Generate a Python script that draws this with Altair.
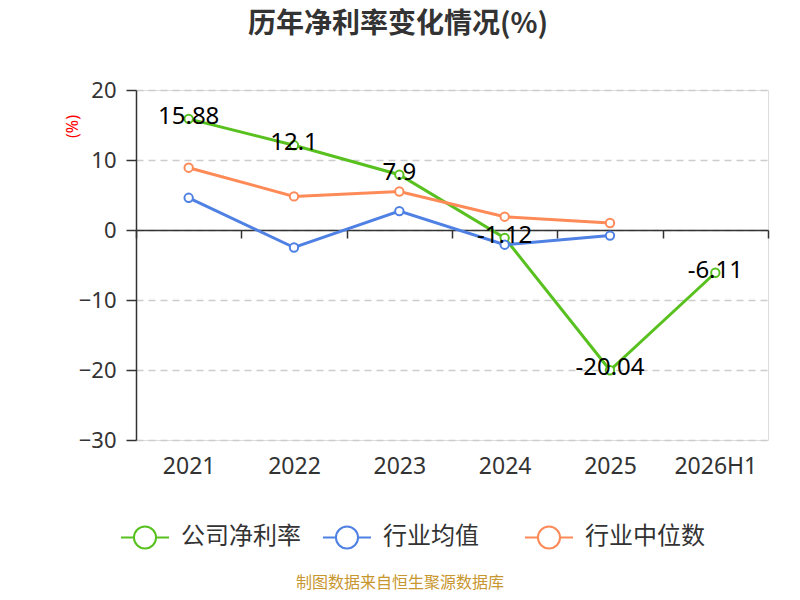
import altair as alt
import pandas as pd

years = ["2021", "2022", "2023", "2024", "2025", "2026H1"]
series_names = ["公司净利率", "行业均值", "行业中位数"]
company = [15.88, 12.1, 7.9, -1.12, -20.04, -6.11]
ind_avg = [4.6, -2.5, 2.7, -2.1, -0.8, None]
ind_median = [8.9, 4.8, 5.5, 1.9, 1.0, None]
colors = ["#58c11f", "#4f80e3", "#fe8a57"]
title_text = "历年净利率变化情况(%)"
source_text = "制图数据来自恒生聚源数据库"
y_ticks = [20, 10, 0, -10, -20, -30]

rows = []
for name, vals in zip(series_names, [company, ind_avg, ind_median]):
    for i, (yr, v) in enumerate(zip(years, vals)):
        if v is not None:
            rows.append({"year": yr, "series": name, "value": v,
                         "order": series_names.index(name),
                         "label": f"{v:g}"})
df = pd.DataFrame(rows)

FONT = "Noto Sans, Noto Sans CJK SC, sans-serif"
CJK = "Noto Sans CJK SC, Noto Sans, sans-serif"

sym_path = ("M-1,0L-0.46,0M0.46,0L1,0"
            "M0.46,0A0.46,0.46,0,1,1,-0.46,0A0.46,0.46,0,1,1,0.46,0Z")

x_enc = alt.X("year:N", sort=years, title=None,
              scale=alt.Scale(paddingInner=0, paddingOuter=0),
              axis=alt.Axis(orient="bottom", offset=-210, domainColor="#333",
                            domainWidth=1.5, tickColor="#333", tickWidth=1.5,
                            tickSize=8, tickBand="extent", labelAngle=0,
                            labelFontSize=23, labelColor="#333", labelFont=FONT,
                            labelPadding=228, labelBaseline="middle", grid=False))
y_enc = alt.Y("value:Q", title="(%)",
              scale=alt.Scale(domain=[-30, 20], nice=False, zero=False),
              axis=alt.Axis(values=y_ticks, domainColor="#333", domainWidth=1.5,
                            tickColor="#333", tickWidth=1.5, tickSize=10,
                            labelFontSize=22, labelColor="#333", labelFont=FONT,
                            labelPadding=10, grid=True, gridColor="#cccccc",
                            gridDash=[7, 5], gridWidth=1.5,
                            titleColor="red", titleFontSize=16, titleFont=FONT,
                            titleFontWeight="normal", titleAngle=270,
                            titleX=-64, titleY=36, titleAlign="center",
                            titleBaseline="middle"))
color_enc = alt.Color("series:N", sort=series_names,
                      scale=alt.Scale(domain=series_names, range=colors),
                      legend=alt.Legend(orient="none", legendX=-16, legendY=422,
                                        direction="horizontal", title=None,
                                        symbolType=sym_path, symbolSize=2304,
                                        symbolStrokeWidth=2, labelFontSize=24,
                                        labelFont=CJK, labelColor="#333",
                                        labelOffset=11, columnPadding=18,
                                        gridAlign="all", padding=0))

base = alt.Chart(df)
lines = base.mark_line(strokeWidth=3).encode(
    x=x_enc, y=y_enc, color=color_enc, detail="series:N",
    order="order:Q")
points = base.mark_point(filled=False, fill="white", size=70, strokeWidth=2,
                         opacity=1).encode(x=x_enc, y=y_enc, color=color_enc)
labels = base.transform_filter(alt.datum.series == "公司净利率").mark_text(
    fontSize=24, font=FONT, color="black", dy=-2, baseline="middle",
    align="center").encode(x=x_enc, y=y_enc, text="label:N")

title_df = pd.DataFrame({"t": [title_text]})
title = alt.Chart(title_df).mark_text(
    fontSize=28, font=CJK, fontWeight="bold", color="#333",
    align="center", baseline="middle").encode(
    x=alt.value(262), y=alt.value(-65), text="t:N")
src_df = pd.DataFrame({"t": [source_text]})
source = alt.Chart(src_df).mark_text(
    fontSize=16, font=CJK, color="#c8962e",
    align="center", baseline="middle").encode(
    x=alt.value(264), y=alt.value(493), text="t:N")

chart = alt.layer(lines, points, labels, title, source).properties(
    width=632, height=350,
    autosize=alt.AutoSizeParams(type="none"),
    padding={"left": 128, "top": 82, "right": 24, "bottom": 152},
).configure_view(stroke=None).configure(background="white")

chart.save("out.html", embed_options={"renderer": "svg", "actions": False})
